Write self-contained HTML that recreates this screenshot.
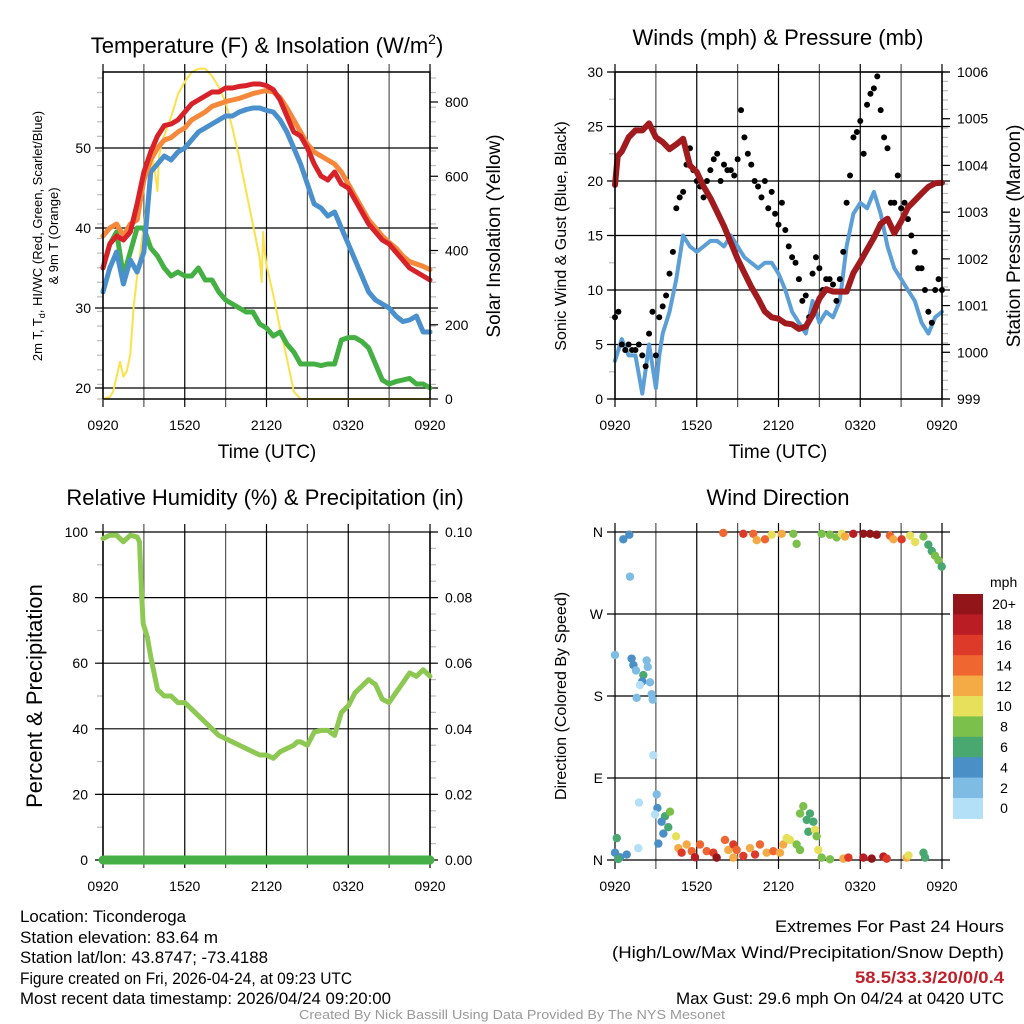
<!DOCTYPE html>
<html><head><meta charset="utf-8"><style>
html,body{margin:0;padding:0;background:#fff;}
svg{display:block;font-family:"Liberation Sans",sans-serif;}
</style></head><body>
<svg id="fig" width="1024" height="1024" viewBox="0 0 1024 1024">
<rect width="1024" height="1024" fill="#fff"/>
<g id="p1"></g>
<g id="p2"></g>
<g id="p3"></g>
<g id="p4"></g>
<text x="267" y="53" font-size="22" text-anchor="middle">Temperature (F) &amp; Insolation (W/m<tspan font-size="14" dy="-9">2</tspan><tspan dy="9">)</tspan></text>
<text x="778" y="45" font-size="22" text-anchor="middle">Winds (mph) &amp; Pressure (mb)</text>
<text x="265" y="505" font-size="22" text-anchor="middle">Relative Humidity (%) &amp; Precipitation (in)</text>
<text x="778" y="505" font-size="22" text-anchor="middle">Wind Direction</text>
<text x="267" y="458" font-size="19" text-anchor="middle">Time (UTC)</text>
<text x="778" y="458" font-size="19" text-anchor="middle">Time (UTC)</text>
<text transform="translate(42,236) rotate(-90)" font-size="13" text-anchor="middle">2m T, T<tspan font-size="9" dy="3">d</tspan><tspan dy="-3">, HI/WC (Red, Green, Scarlet/Blue)</tspan></text>
<text transform="translate(58,236) rotate(-90)" font-size="13" text-anchor="middle">&amp; 9m T (Orange)</text>
<text transform="translate(500,236) rotate(-90)" font-size="19" text-anchor="middle">Solar Insolation (Yellow)</text>
<text transform="translate(566,236) rotate(-90)" font-size="16" text-anchor="middle">Sonic Wind &amp; Gust (Blue, Black)</text>
<text transform="translate(1020,236) rotate(-90)" font-size="19" text-anchor="middle">Station Pressure (Maroon)</text>
<text transform="translate(42,696) rotate(-90)" font-size="22" text-anchor="middle">Percent &amp; Precipitation</text>
<text transform="translate(566,696) rotate(-90)" font-size="16" text-anchor="middle">Direction (Colored By Speed)</text>
<g font-size="17">
<text x="20" y="922" textLength="166" lengthAdjust="spacingAndGlyphs">Location: Ticonderoga</text>
<text x="20" y="943" textLength="198" lengthAdjust="spacingAndGlyphs">Station elevation: 83.64 m</text>
<text x="20" y="963" textLength="248" lengthAdjust="spacingAndGlyphs">Station lat/lon: 43.8747; -73.4188</text>
<text x="20" y="984" textLength="332" lengthAdjust="spacingAndGlyphs">Figure created on Fri, 2026-04-24, at 09:23 UTC</text>
<text x="20" y="1004" textLength="371" lengthAdjust="spacingAndGlyphs">Most recent data timestamp: 2026/04/24 09:20:00</text>
</g>
<g font-size="17" text-anchor="end">
<text x="1004" y="932" textLength="229" lengthAdjust="spacingAndGlyphs">Extremes For Past 24 Hours</text>
<text x="1004" y="958" textLength="392" lengthAdjust="spacingAndGlyphs">(High/Low/Max Wind/Precipitation/Snow Depth)</text>
<text x="1004" y="983" fill="#c0202a" font-weight="bold" textLength="149" lengthAdjust="spacingAndGlyphs">58.5/33.3/20/0/0.4</text>
<text x="1004" y="1004" textLength="328" lengthAdjust="spacingAndGlyphs">Max Gust: 29.6 mph On 04/24 at 0420 UTC</text>
</g>
<text x="512" y="1019" font-size="13" fill="#999" text-anchor="middle" textLength="426" lengthAdjust="spacingAndGlyphs">Created By Nick Bassill Using Data Provided By The NYS Mesonet</text>
</svg>
<script>
const timeTickLabels = ["0920","1520","2120","0320","0920"];
const timeTickHours = [0,6,12,18,24];
// Temperature panel (hours since 0920, half-hour steps)
const tempHours = [0,0.5,1,1.5,2,2.5,3,3.5,4,4.5,5,5.5,6,6.5,7,7.5,8,8.5,9,9.5,10,10.5,11,11.5,12,12.5,13,13.5,14,14.5,15,15.5,16,16.5,17,17.5,18,18.5,19,19.5,20,20.5,21,21.5,22,22.5,23,23.5,24];
const temp2m = [35,38,39,38.5,39.5,43,47,49.5,51.5,52.8,53,53.5,54.5,55.5,56,56.5,57,57,57.5,57.5,57.7,57.8,58,58,57.8,57.3,56,54,52,51.5,50,48,46.5,46,47,45.5,45,43.5,42,40.5,39.5,38.5,38,37,36,35,34.5,34,33.5];
const temp9m = [39,40,40.5,39,40.5,41,46,48.5,50,51,51.3,52,52.5,53.5,54,54.5,55.2,55.5,55.8,56,56.2,56.5,56.8,57,57.2,57,56.3,55,53.5,52,50.5,49.5,49,48.5,48,47,45.5,44,42.5,41,40,39,38.2,37.5,36.5,35.8,35.5,35.2,34.8];
const windChill = [32,35,37,33,36,34.5,37,47,48,49,48.5,49.5,50,51,52,52.5,53,53.5,54,54,54.5,54.8,55,55,54.7,54.5,53.5,52,50,48,45.5,43,42.5,41.5,42,40,38,36,34,32,31,30.5,30,29,28.3,28.5,29,27,27];
const dewPoint = [35,38,39.5,34,37,40,40,37.5,36.5,35,34,34.5,34,34,35,33.5,33.5,32,31,30.5,30,29.5,29.5,28,27.5,26.5,27,25.5,24.5,23,23,23,22.8,23,23,26,26.3,26.3,25.8,25,23,21,20.5,20.8,21,21.2,20.5,20.5,20];
const solarHours = [0,0.5,0.75,1.25,1.5,1.75,2,2.25,2.5,3,3.3,3.5,3.7,4,4.1,4.3,5,5.5,6,6.5,7,7.5,8,8.5,9,9.5,10,10.5,11,11.5,11.65,11.75,11.85,12,12.5,13,13.5,14,14.5,24];
const solarValues = [0,5,20,100,60,75,120,250,330,470,560,610,640,560,650,690,760,820,855,880,890,890,870,840,800,730,650,560,470,380,315,450,400,360,280,190,110,20,0,0];
// Winds panel
const windHours = [0,0.5,1,1.5,2,2.5,3,3.25,3.5,4,4.5,5,5.5,6,6.5,7,7.5,8,8.5,9,9.5,10,10.5,11,11.5,12,12.5,13,13.5,14,14.5,15,15.5,16,16.5,17,17.5,18,18.5,19,19.5,20,20.5,21,21.5,22,22.5,23,23.5,24];
const windSpeed = [3.5,5.5,4,4,0.5,5,1,4,6,8,11,15,14,13.5,14,14.5,14.5,14,15,14,13,12.5,12,12.5,12.5,11.5,10,8,7,6,9,7,8,7.5,9,14,17,18,17.5,19,17,14,12,11,10,9,7,6,7.5,8];
const gustValues = [7.5,8,5,4.5,5,4.5,4.5,5,4,3,6,8,4,7.5,8.5,9.5,11.5,13.5,17.5,18.5,19,21.5,23,21,20,19.5,18.5,20,21,22,22.5,20,21.5,21,21,20.5,22,26.5,24,22.5,21.5,20,19.5,18.5,20,17.5,19,17,16,18,15.5,14,13,12.5,11,9,9.5,7.5,11.5,13,12,10,11,11,10.5,9,11,13.5,18,20.5,24,24.5,25.5,22.5,27,28,28.5,29.6,26.5,24,23,18,18,20.5,17.5,18,16.5,15,13.5,12,12,10,8,7,10,11,10];
const pressHours = [0,0.2,0.5,1,1.5,2,2.5,3,3.5,4,4.5,5,5.5,6,6.5,7,7.5,8,8.5,9,9.5,10,10.5,11,11.5,12,12.5,13,13.5,14,14.5,15,15.5,16,16.5,17,17.5,18,18.5,19,19.5,20,20.5,21,21.5,22,22.5,23,23.5,24];
const pressValues = [1003.58,1004.2,1004.3,1004.6,1004.75,1004.75,1004.9,1004.6,1004.5,1004.35,1004.45,1004.57,1004.0,1003.86,1003.55,1003.3,1003.0,1002.7,1002.35,1002.0,1001.7,1001.4,1001.15,1000.87,1000.75,1000.72,1000.62,1000.6,1000.5,1000.55,1000.8,1001.15,1001.35,1001.3,1001.3,1001.3,1001.7,1001.94,1002.2,1002.45,1002.75,1002.86,1002.55,1002.8,1003.1,1003.25,1003.4,1003.54,1003.62,1003.63];
// RH panel
const rhHours = [0,0.5,1,1.5,2,2.5,2.68,2.85,2.95,3.25,3.5,3.75,4,4.5,5,5.5,6,6.5,7,7.5,8,8.5,9,9.5,10,10.5,11,11.5,12,12.5,13,13.5,14,14.25,14.5,15,15.5,16,16.5,17,17.5,18,18.5,19,19.5,20,20.5,21,21.5,22,22.5,23,23.5,24];
const rhValues = [98,99,99,97,99,98.5,97,80,72,68,62,57,52,50,50,48,48,46,44,42,40,38,37,36,35,34,33,32,32,31,33,34,35,36,36,35,39,39.5,39.5,38,45,47,51,53,55,53.5,49,48,51,54,57,56,58,56];
const precipValues = [0,0];
// Wind direction panel: time (h), direction (deg), speed (mph)
const dirHours = [1.05,0.61,1.1,0,1.22,1.35,1.54,2.32,2.4,2.08,2.0,1.83,2.57,1.59,2.69,2.77,2.81,3.06,1.76,3.11,2.94,3.67,4.04,3.42,3.55,3.91,4.48,3.18,1.71,0.13,0,0.37,0.86,0.24,
4.65,4.89,5.26,5.63,5.87,6.24,6.73,7.22,7.46,8.07,8.32,8.69,8.93,9.42,9.91,10.28,10.64,11.13,11.62,12.11,12.35,8.69,
12.6,12.84,13.33,13.58,13.82,13.58,14.07,14.31,14.56,14.19,14.68,14.8,14.92,15.17,15.78,16.76,17.13,18.23,18.84,19.7,19.94,21.41,21.54,22.64,22.76,
7.95,9.42,10.15,10.4,11.01,11.5,12.23,13.09,13.33,15.17,15.78,16.27,16.64,16.88,17.49,18.23,18.72,19.21,20.18,20.43,21.04,21.66,22.03,22.64,23.0,23.25,23.49,23.74,23.98];
const dirDegrees = [357,352,311,225,221,214,208,219,212,203,196,192,195,178,182,176,115,72,63,57,50,48,53,42,29,36,26,18,13,24,8,3,6,1,
13,8,17,9.7,3,17,9.7,8,2.6,22,11,17,11,4.4,13,6,17,8,9.7,8,17,2.6,
24,22,17,11,59,51,44,51,42,31,33,26,11,2.6,0.8,1.5,2.6,2.6,1.5,3.7,1.5,2.6,5,8,2.6,
359,358,358,351,352,357,358,358,347,358,357,354,358,355,358,358,358,357,356,352,352,356,349,355,346,339,334,329,322];
const dirSpeeds = [5,5,3,3,5,5,3,3,3,7,5,1,3,3,3,3,1,3,1,5,1,7,9,5,5,7,11,5,1,7,5,5,5,7,
13,17,13,15,19,15,15,17,21,15,13,17,15,17,13,17,15,13,15,13,13,13,
11,11,9,9,9,9,7,7,7,7,11,9,11,9,9,13,17,19,21,19,17,13,11,7,7,
15,17,15,13,15,11,13,9,9,9,9,9,11,13,19,21,21,21,15,13,17,11,11,9,7,7,9,9,7];
const speedBinLabels = ["0","2","4","6","8","10","12","14","16","18","20+"];
const speedBinColors = ["#b3e0f7","#7fbce4","#4a8fc6","#48a870","#7cc04c","#e6e05a","#f5ab45","#ef6630","#dd3a2a","#bb1d24","#921619"];

const NS="http://www.w3.org/2000/svg";
function el(parent,tag,attrs){const e=document.createElementNS(NS,tag);for(const k in attrs)e.setAttribute(k,attrs[k]);parent.appendChild(e);return e;}
function lin(d0,d1,r0,r1){return v=>r0+(v-d0)/(d1-d0)*(r1-r0);}
function pathFrom(xs,ys,fx,fy){return xs.map((x,i)=>(i?"L":"M")+fx(x).toFixed(1)+","+fy(ys[i]).toFixed(1)).join("");}

function drawGrid(g,L,R,T,B,fx,yTicks,fy,ext){
  for(let h=0;h<=24;h+=3){const x=fx(h);
    const gl=el(g,"line",{x1:x,x2:x,y1:T-ext,y2:B+ext,stroke:(h%6===0?"#000":"#555"),"stroke-width":1.2});
    
    }
  yTicks.forEach(v=>{const y=fy(v);
    const hl=el(g,"line",{x1:L-8,x2:R+8,y1:y,y2:y,stroke:"#000","stroke-width":1.2});
    
    });
}
function timeLabels(g,fx,y){timeTickHours.forEach((h,i)=>{const t=el(g,"text",{x:fx(h),y:y,"font-size":14,"text-anchor":"middle"});t.textContent=timeTickLabels[i];
  
  });}
function yLabels(g,vals,labels,fy,x,anchor,size){vals.forEach((v,i)=>{const t=el(g,"text",{x:x,y:fy(v)+5,"font-size":size||14,"text-anchor":anchor});t.textContent=labels[i];
  
  });}
function minorTicks(g,x,y0,y1,n,dir){for(let i=0;i<=n;i++){const y=y0+(y1-y0)*i/n;el(g,"line",{x1:x,x2:x+dir*6,y1:y,y2:y,stroke:"#bbb","stroke-width":1.2});}}
function series(g,xs,ys,fx,fy,color,w,name){const p=el(g,"path",{d:pathFrom(xs,ys,fx,fy),fill:"none",stroke:color,"stroke-width":w,"stroke-linejoin":"round","stroke-linecap":"round"});
  
  return p;}

// Panel 1
(function(){const g=document.getElementById("p1");const L=103,R=430,T=72,B=399;
  const fx=lin(0,24,L,R),fy=lin(20,50,388,148),fs=lin(0,800,399,102);
  minorTicks(g,R,T+6,B,22,1);minorTicks(g,L,T+6,B,22,-1);
  drawGrid(g,L,R,T,B,fx,[20,30,40,50],fy,8);
  series(g,solarHours,solarValues,fx,fs,"#fbe14a",2,"solar-insolation-line");
  series(g,tempHours,dewPoint,fx,fy,"#44b044",5,"dewpoint-line");
  series(g,tempHours,windChill,fx,fy,"#4a90cc",5,"windchill-line");
  series(g,tempHours,temp9m,fx,fy,"#f5883a",5,"temp-9m-line");
  series(g,tempHours,temp2m,fx,fy,"#d8222a",5,"temp-2m-line");
  el(g,"rect",{x:L,y:T,width:R-L,height:B-T,fill:"none",stroke:"#000","stroke-width":1.5});
  [0,200,400,600,800].forEach(v=>el(g,"line",{x1:R,x2:R+8,y1:fs(v),y2:fs(v),stroke:"#000","stroke-width":1.2}));
  yLabels(g,[20,30,40,50],["20","30","40","50"],fy,L-12,"end");
  yLabels(g,[0,200,400,600,800],["0","200","400","600","800"],fs,R+15,"start");
  timeLabels(g,fx,430);})();

// Panel 2
(function(){const g=document.getElementById("p2");const L=615,R=942,T=72,B=399;
  const fx=lin(0,24,L,R),fy=lin(0,30,B,T),fp=lin(999,1006,B,T);
  minorTicks(g,R,T,B,35,1);minorTicks(g,L,T,B,12,-1);
  drawGrid(g,L,R,T,B,fx,[0,5,10,15,20,25,30],fy,8);
  series(g,windHours,windSpeed,fx,fy,"#5b9fd6",4,"sonic-wind-line");
  gustValues.forEach((v,i)=>{const c=el(g,"circle",{cx:fx(i*0.25),cy:fy(v),r:3,fill:"#000"});
    
    });
  series(g,pressHours,pressValues,fx,fp,"#a01a1e",6,"pressure-line");
  el(g,"rect",{x:L,y:T,width:R-L,height:B-T,fill:"none",stroke:"#000","stroke-width":1.5});
  [999,1000,1001,1002,1003,1004,1005,1006].forEach(v=>el(g,"line",{x1:R,x2:R+8,y1:fp(v),y2:fp(v),stroke:"#000","stroke-width":1.2}));
  yLabels(g,[0,5,10,15,20,25,30],["0","5","10","15","20","25","30"],fy,L-12,"end");
  yLabels(g,[999,1000,1001,1002,1003,1004,1005,1006],["999","1000","1001","1002","1003","1004","1005","1006"],fp,R+15,"start");
  timeLabels(g,fx,430);})();

// Panel 3
(function(){const g=document.getElementById("p3");const L=103,R=430,T=532,B=860;
  const fx=lin(0,24,L,R),fy=lin(0,100,B,T),fp=lin(0,0.1,B,T);
  minorTicks(g,R,T,B,20,1);minorTicks(g,L,T,B,10,-1);
  drawGrid(g,L,R,T,B,fx,[0,20,40,60,80,100],fy,8);
  el(g,"line",{x1:L,x2:L,y1:T,y2:B,stroke:"#000","stroke-width":1.5});
  el(g,"line",{x1:R,x2:R,y1:T,y2:B,stroke:"#000","stroke-width":1.5});
  series(g,rhHours,rhValues,fx,fy,"#8dc853",5,"relative-humidity-line");
  series(g,[0,24],precipValues,fx,fp,"#46b046",9,"precipitation-line");
  yLabels(g,[0,20,40,60,80,100],["0","20","40","60","80","100"],fy,L-15,"end");
  yLabels(g,[0,0.02,0.04,0.06,0.08,0.1],["0.00","0.02","0.04","0.06","0.08","0.10"],fp,R+15,"start");
  timeLabels(g,fx,891);})();

// Panel 4
(function(){const g=document.getElementById("p4");const L=615,R=942,T=532,B=860;
  const fx=lin(0,24,L,R),fy=lin(0,360,B,T);
  drawGrid(g,L,R,T,B,fx,[0,90,180,270,360],fy,9);
  const bin=s=>Math.min(10,Math.floor(s/2));
  dirHours.forEach((h,i)=>{const c=el(g,"circle",{cx:fx(h),cy:fy(dirDegrees[i]),r:4.2,fill:speedBinColors[bin(dirSpeeds[i])]});
    
    });
  yLabels(g,[0,90,180,270,360],["N","E","S","W","N"],fy,L-12,"end");
  timeLabels(g,fx,891);
  const cb=el(g,"g",{});
  
  
  const cbTop=594,cbH=20.4;
  for(let i=0;i<11;i++){const k=10-i;
    const r=el(cb,"rect",{x:953,y:cbTop+i*cbH,width:30,height:cbH+0.5,fill:speedBinColors[k]});
    
    
    const t=el(cb,"text",{x:1004,y:cbTop+i*cbH+cbH/2+5,"font-size":14,"text-anchor":"middle"});t.textContent=speedBinLabels[k];
    
    }
  const m=el(cb,"text",{x:990,y:587,"font-size":14});m.textContent="mph";
  
  })();
</script>
</body></html>
